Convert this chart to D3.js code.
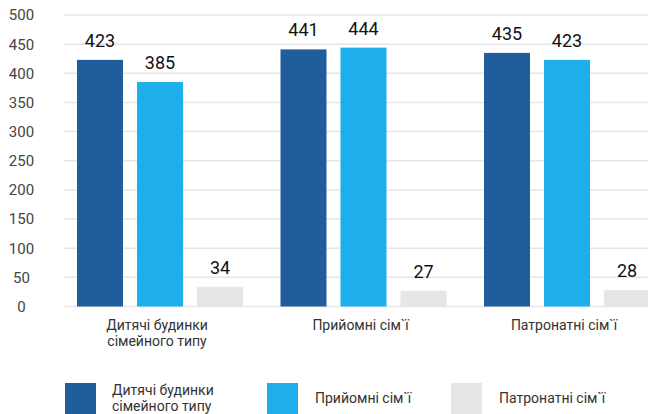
<!DOCTYPE html>
<html>
<head>
<meta charset="utf-8">
<script src="https://cdn.jsdelivr.net/npm/d3@7"></script>
<style>
  body { margin: 0; background: #fff; }
  svg { display: block; font-family: Roboto, "Liberation Sans", sans-serif; }
  .grid line { stroke: #e6e6e6; stroke-width: 1.5; }
  .ytick { fill: #444; font-size: 15px; }
  .cat { fill: #333; font-size: 14px; }
  .val { fill: #111; font-size: 18px; }
  .leg { fill: #333; font-size: 14px; }
</style>
</head>
<body>
<div id="chart"></div>
<script>
//chart data
var categories = [["Дитячі будинки", "сімейного типу"], ["Прийомні сім`ї"], ["Патронатні сім`ї"]];
var series = ["Дитячі будинки сімейного типу", "Прийомні сім`ї", "Патронатні сім`ї"];
var legendLines = [["Дитячі будинки", "сімейного типу"], ["Прийомні сім`ї"], ["Патронатні сім`ї"]];
var homesVals = [423, 441, 435];
var fosterVals = [385, 444, 423];
var patronVals = [34, 27, 28];
var yTicks = [0, 50, 100, 150, 200, 250, 300, 350, 400, 450, 500];
var colours = ["#215d9b", "#1eaeeb", "#e5e6e8"];

var width = 648, height = 414;

var svg = d3.select("#chart").append("svg")
    .attr("width", width)
    .attr("height", height);

var catKeys = categories.map(function(c){ return c.join(" "); });

//scales
var y = d3.scaleLinear()
    .domain([0, 500])
    .range([306.5, 15]);
var x0 = d3.scaleBand()
    .domain(catKeys)
    .range([62, 672.5])
    .padding(0);
var x1 = d3.scaleBand()
    .domain(series)
    .range([15, 181])
    .paddingInner(0.2333)
    .paddingOuter(0);

//gridlines
svg.append("g").attr("class", "grid")
    .selectAll("line")
    .data(yTicks)
    .enter().append("line")
        .attr("x1", 64)
        .attr("x2", width)
        .attr("y1", function(d){ return y(d); })
        .attr("y2", function(d){ return y(d); });

//y labels
svg.append("g")
    .selectAll("text")
    .data(yTicks)
    .enter().append("text")
        .attr("class", "ytick")
        .attr("x", 21.5)
        .attr("y", function(d){ return y(d); })
        .attr("dy", "0.36em")
        .attr("text-anchor", "middle")
        .text(function(d){ return d; });

//bars
var allVals = [homesVals, fosterVals, patronVals];
var rows = catKeys.map(function(c, i){
    return series.map(function(s, j){ return {cat: c, ser: s, idx: j, v: allVals[j][i]}; });
});

var groups = svg.append("g").selectAll("g")
    .data(rows)
    .enter().append("g")
        .attr("transform", function(d){ return "translate(" + x0(d[0].cat) + ",0)"; });

groups.selectAll("rect")
    .data(function(d){ return d; })
    .enter().append("rect")
        .attr("x", function(d){ return x1(d.ser); })
        .attr("y", function(d){ return y(d.v); })
        .attr("width", x1.bandwidth())
        .attr("height", function(d){ return y(0) - y(d.v); })
        .attr("fill", function(d){ return colours[d.idx]; });

groups.selectAll("text.val")
    .data(function(d){ return d; })
    .enter().append("text")
        .attr("class", "val")
        .attr("x", function(d){ return x1(d.ser) + x1.bandwidth() / 2; })
        .attr("y", function(d){ return y(d.v) - 13; })
        .attr("text-anchor", "middle")
        .text(function(d){ return d.v; });

//category labels
var catText = svg.append("g").selectAll("text")
    .data(categories)
    .enter().append("text")
        .attr("class", "cat")
        .attr("text-anchor", "middle")
        .attr("transform", function(d, i){ return "translate(" + (x0(catKeys[i]) + 95) + ",330)"; });
catText.selectAll("tspan")
    .data(function(d){ return d; })
    .enter().append("tspan")
        .attr("x", 0)
        .attr("y", function(d, i){ return i * 16; })
        .text(function(d){ return d; });

//legend
var legX = [65, 267, 451];
var leg = svg.append("g").selectAll("g")
    .data(series)
    .enter().append("g")
        .attr("transform", function(d, i){ return "translate(" + legX[i] + ",383)"; });
leg.append("rect")
    .attr("width", 31)
    .attr("height", 32)
    .attr("fill", function(d, i){ return colours[i]; });
var legText = leg.append("text")
    .attr("class", "leg")
    .attr("x", function(d, i){ return i === 0 ? 47 : 48; });
legText.selectAll("tspan")
    .data(function(d, i){ return legendLines[i]; })
    .enter().append("tspan")
        .attr("x", function(){ return d3.select(this.parentNode).attr("x"); })
        .attr("y", function(d, i, n){ return n.length > 1 ? 12 + i * 16 : 20; })
        .text(function(d){ return d; });
</script>
</body>
</html>
